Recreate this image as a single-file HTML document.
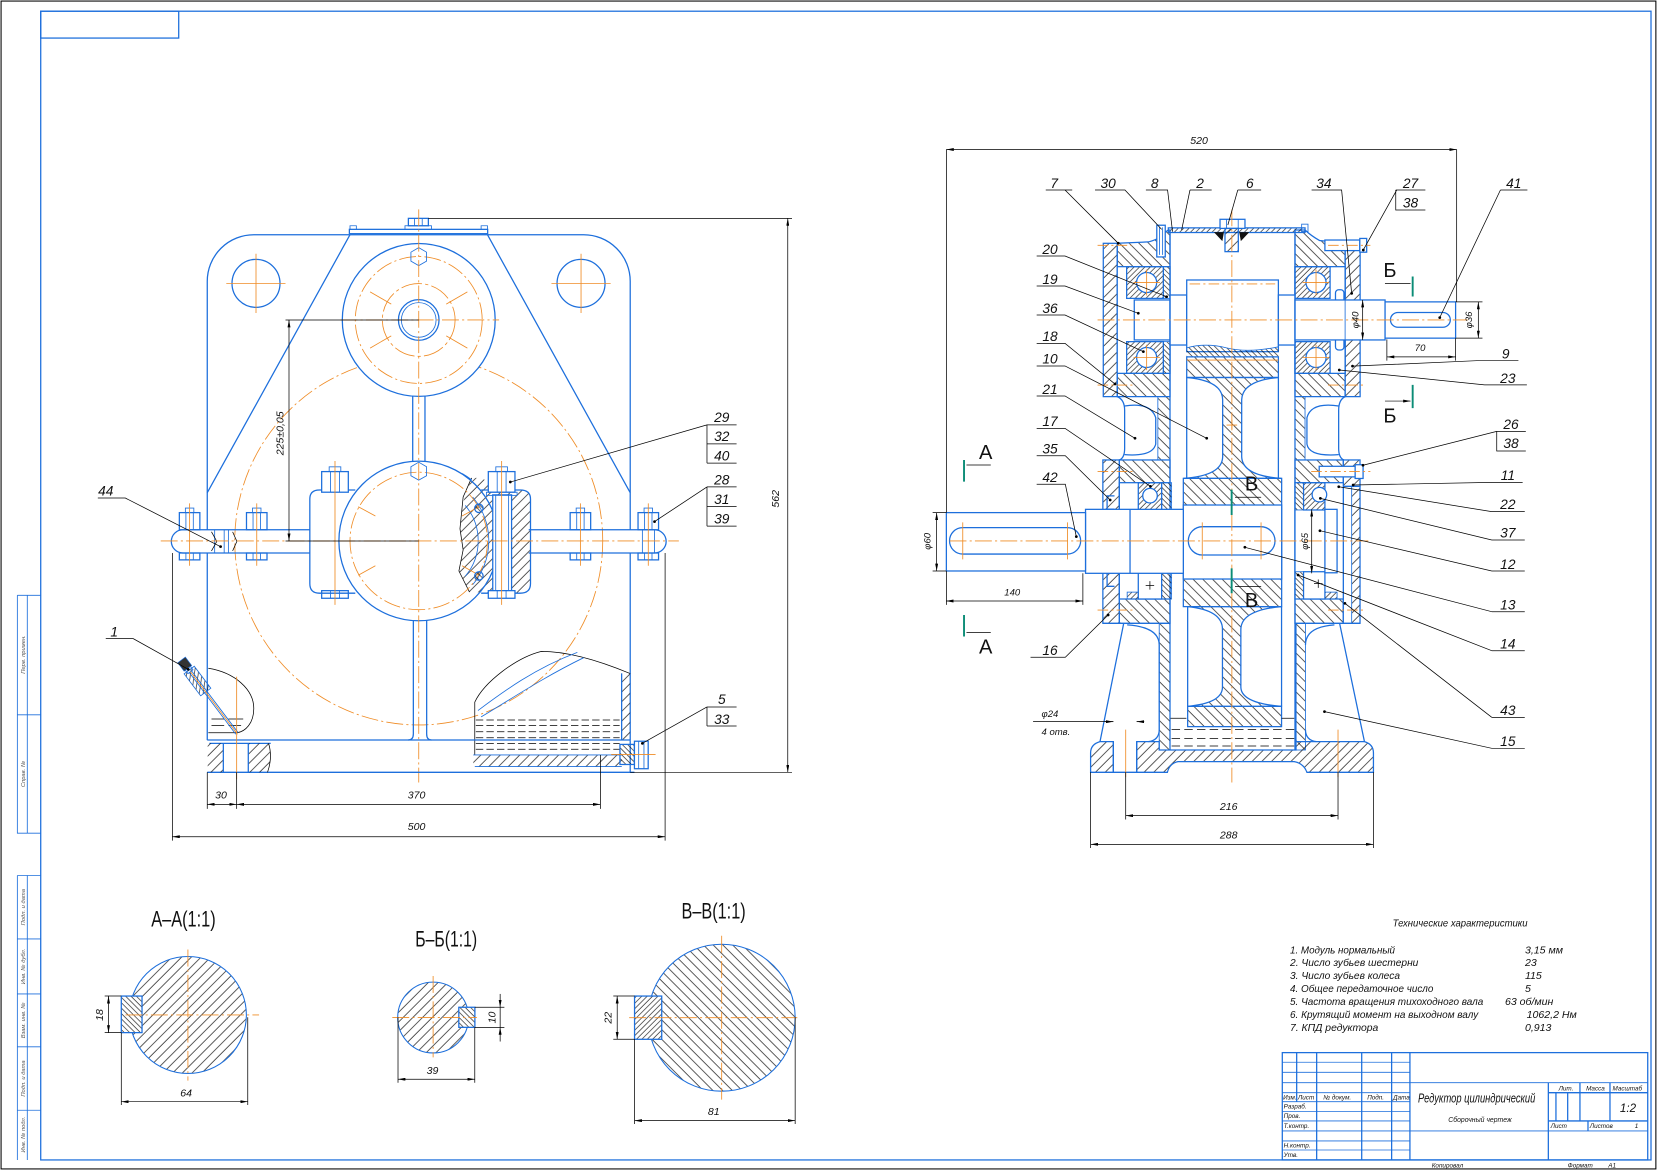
<!DOCTYPE html>
<html><head><meta charset="utf-8"><title>Редуктор цилиндрический</title>
<style>
html,body{margin:0;padding:0;background:#fff;width:1658px;height:1172px;overflow:hidden}
svg{display:block}
text{font-family:"Liberation Sans","DejaVu Sans",sans-serif;font-style:italic;fill:#111;stroke:none}
.u{font-style:normal}
.b{stroke:#1d6fdc;stroke-width:1.2}
.bt{stroke:#1d6fdc;stroke-width:0.8}
.o{stroke:#ef8c26;stroke-width:0.8;stroke-dasharray:16 3 2 3}
.os{stroke:#ef8c26;stroke-width:0.8}
.k{stroke:#000;stroke-width:0.7}
.g{stroke:#0b8c76;stroke-width:1.8}
.gr{fill:#555}
</style></head><body>
<svg width="1658" height="1172" viewBox="0 0 1568 1108.4" xmlns="http://www.w3.org/2000/svg" fill="none">
<defs>
<pattern id="p1" width="6.5" height="6.5" patternUnits="userSpaceOnUse" patternTransform="rotate(45)"><line x1="1" y1="0" x2="1" y2="6.5" stroke="#000" stroke-width="0.6"/></pattern>
<pattern id="p2" width="6.5" height="6.5" patternUnits="userSpaceOnUse" patternTransform="rotate(-45)"><line x1="1" y1="0" x2="1" y2="6.5" stroke="#000" stroke-width="0.6"/></pattern>
<pattern id="p3" width="3.6" height="3.6" patternUnits="userSpaceOnUse" patternTransform="rotate(45)"><line x1="1" y1="0" x2="1" y2="3.6" stroke="#000" stroke-width="0.55"/></pattern>
<pattern id="p4" width="3.6" height="3.6" patternUnits="userSpaceOnUse" patternTransform="rotate(-45)"><line x1="1" y1="0" x2="1" y2="3.6" stroke="#000" stroke-width="0.55"/></pattern>
<pattern id="p5" width="9" height="9" patternUnits="userSpaceOnUse" patternTransform="rotate(45)"><line x1="1" y1="0" x2="1" y2="9" stroke="#000" stroke-width="0.6"/></pattern>
<marker id="ar" viewBox="0 0 10 4" refX="10" refY="2" markerWidth="7" markerHeight="2.8" orient="auto-start-reverse" markerUnits="userSpaceOnUse"><path d="M0,0 L10,2 L0,4z" fill="#000"/></marker>
</defs>
<rect x="0" y="0" width="1568" height="1108.4" fill="#fff"/>

<!-- ============ FRAME ============ -->
<rect x="1" y="1" width="1565" height="1104.5" stroke="#000" stroke-width="1"/>
<rect class="b" x="38.5" y="10.6" width="1522.9" height="1086.4"/>
<rect class="b" x="38.5" y="10.6" width="130.5" height="25.4"/>
<path class="bt" d="M16.4,563H38.5M16.4,563V788H38.5M25.8,563V788M16.4,676H38.5M16.4,828H38.5M16.4,828V1097M25.8,828V1097M16.4,888H38.5M16.4,940H38.5M16.4,990H38.5M16.4,1050H38.5"/>
<g font-size="5.5" class="gr">
<text class="gr" transform="translate(23.5,619) rotate(-90)" text-anchor="middle">Перв. примен.</text>
<text class="gr" transform="translate(23.5,732) rotate(-90)" text-anchor="middle">Справ. №</text>
<text class="gr" transform="translate(23.5,858) rotate(-90)" text-anchor="middle">Подп. и дата</text>
<text class="gr" transform="translate(23.5,914) rotate(-90)" text-anchor="middle">Инв. № дубл.</text>
<text class="gr" transform="translate(23.5,965) rotate(-90)" text-anchor="middle">Взам. инв. №</text>
<text class="gr" transform="translate(23.5,1020) rotate(-90)" text-anchor="middle">Подп. и дата</text>
<text class="gr" transform="translate(23.5,1073) rotate(-90)" text-anchor="middle">Инв. № подл.</text>
</g>

<!-- ============ TITLE BLOCK ============ -->
<rect class="b" x="1212.7" y="995.5" width="345.6" height="101.5"/>
<path class="bt" d="M1212.7,1004.6H1333.4M1212.7,1014.1H1333.4M1212.7,1023.9H1558.3M1212.7,1033.4H1333.4M1212.7,1041.9H1333.4M1212.7,1051.3H1333.4M1212.7,1060.1H1333.4M1212.7,1069.6H1558.3M1212.7,1079H1333.4M1212.7,1087.6H1333.4"/>
<path class="b" d="M1226.3,995.5V1041.9M1245.2,995.5V1097M1287.8,995.5V1097M1316.1,995.5V1097M1333.4,995.5V1097M1464.3,1023.9V1097M1464.3,1033.4H1558.3M1464.3,1060.1H1558.3M1494.2,1023.9V1060.1M1522.6,1023.9V1060.1M1471.5,1033.4V1060.1M1482.6,1033.4V1060.1M1501.8,1060.1V1069.6"/>
<g font-size="6">
<text x="1213.5" y="1039.6">Изм.</text><text x="1227.5" y="1039.6">Лист</text><text x="1251.5" y="1039.6">№ докум.</text><text x="1293" y="1039.6">Подп.</text><text x="1317.5" y="1039.6">Дата</text>
<text x="1214" y="1048.2">Разраб.</text><text x="1214" y="1057.2">Пров.</text><text x="1214" y="1066.6">Т.контр.</text><text x="1214" y="1085">Н.контр.</text><text x="1214" y="1094">Утв.</text>
<text x="1474" y="1031.5">Лит.</text><text x="1500" y="1031.5">Масса</text><text x="1525" y="1031.5">Масштаб</text>
<text x="1466.5" y="1067">Лист</text><text x="1503.5" y="1067">Листов</text><text x="1546" y="1067">1</text>
<text x="1354" y="1104.2">Копировал</text><text x="1482.6" y="1104.2">Формат</text><text x="1521" y="1104.2">А1</text>
<text x="1369.7" y="1061" font-size="6.5">Сборочный чертеж</text>
</g>
<text x="1341" y="1042.5" font-size="12" textLength="111" lengthAdjust="spacingAndGlyphs">Редуктор цилиндрический</text>
<text x="1532" y="1051.5" font-size="11">1:2</text>

<!-- ============ TECH CHARACTERISTICS ============ -->
<text x="1317" y="876.4" font-size="10" textLength="127.7" lengthAdjust="spacingAndGlyphs">Технические характеристики</text>
<g font-size="10">
<text x="1220" y="901.6" textLength="99.3" lengthAdjust="spacingAndGlyphs">1. Модуль нормальный</text>
<text x="1220" y="913.8" textLength="121.4" lengthAdjust="spacingAndGlyphs">2. Число зубьев шестерни</text>
<text x="1220" y="926" textLength="104" lengthAdjust="spacingAndGlyphs">3. Число зубьев колеса</text>
<text x="1220" y="938.2" textLength="135.6" lengthAdjust="spacingAndGlyphs">4. Общее передаточное число</text>
<text x="1220" y="950.4" textLength="182.8" lengthAdjust="spacingAndGlyphs">5. Частота вращения тихоходного вала</text>
<text x="1220" y="962.8" textLength="178" lengthAdjust="spacingAndGlyphs">6. Крутящий момент на выходном валу</text>
<text x="1220" y="975.2" textLength="83.5" lengthAdjust="spacingAndGlyphs">7. КПД редуктора</text>
<text x="1442.2" y="901.6">3,15 мм</text>
<text x="1442.2" y="913.8">23</text>
<text x="1442.2" y="926">115</text>
<text x="1442.2" y="938.2">5</text>
<text x="1423.3" y="950.4">63 об/мин</text>
<text x="1443.8" y="962.8">1062,2 Нм</text>
<text x="1442.2" y="975.2">0,913</text>
</g>

<!-- ============ LEFT (FRONT) VIEW ============ -->
<!-- wheel pitch circle -->
<circle class="o" cx="396" cy="511.6" r="174"/>
<!-- body outline -->
<path class="b" d="M196,501 V266 A44,44 0 0 1 240,222 H552 A44,44 0 0 1 596,266 V501 M196,523 V700 M596,523 V700"/>
<path class="b" d="M331,222 L196,466 M461,222 L596,466"/>
<!-- cover + plug -->
<rect class="b" x="330.4" y="216.9" width="130.8" height="4.1" fill="#fff"/>
<path class="bt" d="M331,216.9 V213.5 H337 V216.9 M455,216.9 V213.5 H461 V216.9"/>
<rect class="bt" x="383" y="213.5" width="25" height="3.4"/>
<rect class="b" x="386.2" y="206.5" width="18.9" height="7"/>
<path class="bt" d="M392,206.5V213.5M399.3,206.5V213.5"/>
<!-- lifting holes -->
<circle class="b" cx="242.1" cy="268" r="22.7"/>
<circle class="b" cx="549.5" cy="268" r="22.7"/>
<path class="os" d="M214,268H270M242.1,240V296M521.5,268H577.5M549.5,240V296"/>
<!-- upper boss -->
<circle class="b" cx="396" cy="302.6" r="72.3" fill="#fff"/>
<circle class="o" cx="396" cy="302.6" r="60"/>
<circle class="os" cx="396" cy="302.6" r="34.4" stroke-dasharray="20 3 3 3"/>
<circle class="b" cx="396" cy="302.6" r="19.2"/>
<circle class="bt" cx="396" cy="302.6" r="16.4"/>
<path class="os" d="M350,276 L370,287.6 M442,276 L422,287.6 M350,329.2 L370,317.6 M442,329.2 L422,317.6"/>
<polygon class="bt" points="396,234.2 403.4,238.5 403.4,247 396,251.2 388.6,247 388.6,238.5"/>
<!-- neck -->
<path class="b" d="M390.3,374.6 V436 M401.9,374.6 V436"/>
<!-- flange band -->
<path class="b" d="M173,501 H293 M173,523 H293 M173,501 A11,11 0 0 0 173,523 M500,501 H619 M500,523 H619 M619,501 A11,11 0 0 1 619,523"/>
<!-- lugs -->
<path class="b" d="M336,463.4 H302 Q293,463.4 293,472 V552 Q293,561 302,561 H336"/>
<!-- section cut region right lug -->
<path d="M446,452 L455,452 L470,460 L492,463.4 Q501.7,463.4 501.7,472 V552 Q501.7,561 492,561 L444,560 L434,540 L438,520 L435,500 L438,475 Z" fill="url(#p1)"/>
<path class="k" d="M446,452 L438,470 L435,500 L438,520 L434,540 L444,560" stroke-width="0.9"/>
<path class="b" d="M455,463.4 H492 Q501.7,463.4 501.7,472 V552 Q501.7,561 492,561 H455"/>
<path class="bt" d="M440,478 A52,52 0 0 1 440,545 M447,470 A64,64 0 0 1 447,553"/>
<!-- lower boss -->
<circle class="b" cx="396" cy="511.6" r="75.5" fill="#fff" fill-opacity="0"/>
<path class="b" d="M437,448 A75.5,75.5 0 0 1 446,454" />
<circle class="o" cx="396" cy="511.6" r="65"/>
<path class="os" d="M338.8,479.2 L355,488 M453.2,479.2 L437,488 M338.8,544 L355,535 M453.2,544 L437,535"/>
<polygon class="bt" points="396,437.1 403.4,441.4 403.4,449.9 396,454.1 388.6,449.9 388.6,441.4"/>
<!-- lower rib -->
<path class="b" d="M390.9,587 V694 Q390.9,699.8 386,699.8 M403.5,587 V694 Q403.5,699.8 408,699.8"/>
<!-- pins in cut -->
<circle class="b" cx="452.9" cy="480.7" r="4" fill="url(#p4)"/>
<circle class="b" cx="452.9" cy="544.7" r="4" fill="url(#p4)"/>
<!-- section bolt (29) -->
<rect class="b" x="466" y="468" width="17.8" height="90.6" fill="#fff"/>
<path class="bt" d="M468.8,468 V558.6 M481,468 V558.6"/>
<rect class="b" x="461.8" y="446" width="25.2" height="19.5" fill="#fff"/>
<path class="bt" d="M470.2,446V465.5M478.6,446V465.5"/>
<rect class="bt" x="468.9" y="441.5" width="11" height="4.5"/>
<rect class="bt" x="460" y="465.5" width="29" height="3"/>
<rect class="b" x="461.8" y="558.6" width="25.2" height="7.2" fill="#fff"/>
<path class="bt" d="M470.2,558.6V565.8M478.6,558.6V565.8"/>
<!-- lug bolt left -->
<rect class="b" x="304.2" y="446" width="25.2" height="19.5" fill="#fff"/>
<path class="bt" d="M312.6,446V465.5M321,446V465.5"/>
<rect class="bt" x="311.3" y="441.5" width="11" height="4.5"/>
<rect class="b" x="304.2" y="558.6" width="25.2" height="7.2"/>
<path class="bt" d="M312.6,558.6V565.8M321,558.6V565.8"/>
<path class="os" d="M316.8,436V572M474.4,436V572"/>
<!-- flange bolts -->
<g>
<rect class="b" x="169.6" y="484.8" width="19.4" height="16.2"/><path class="bt" d="M175.8,484.8V501M182.8,484.8V501"/><rect class="bt" x="175.3" y="480.5" width="8" height="4.3"/><rect class="b" x="169.6" y="523" width="19.4" height="6.5"/><path class="bt" d="M175.8,523V529.5M182.8,523V529.5"/>
<rect class="b" x="233.1" y="484.8" width="19.4" height="16.2"/><path class="bt" d="M239.3,484.8V501M246.3,484.8V501"/><rect class="bt" x="238.8" y="480.5" width="8" height="4.3"/><rect class="b" x="233.1" y="523" width="19.4" height="6.5"/><path class="bt" d="M239.3,523V529.5M246.3,523V529.5"/>
<rect class="b" x="539.2" y="484.8" width="19.4" height="16.2"/><path class="bt" d="M545.4,484.8V501M552.4,484.8V501"/><rect class="bt" x="544.9" y="480.5" width="8" height="4.3"/><rect class="b" x="539.2" y="523" width="19.4" height="6.5"/><path class="bt" d="M545.4,523V529.5M552.4,523V529.5"/>
<rect class="b" x="603.4" y="484.8" width="19.4" height="16.2"/><path class="bt" d="M609.6,484.8V501M616.6,484.8V501"/><rect class="bt" x="609.1" y="480.5" width="8" height="4.3"/><rect class="b" x="603.4" y="523" width="19.4" height="6.5"/><path class="bt" d="M609.6,523V529.5M616.6,523V529.5"/>
<path class="bt" d="M607.5,501V523M619,501V523M203,501V523M212,501V523M216,501V523"/>
<path class="k" d="M200,503 L205,512 L200,521 M220,503 L224,512 L220,521"/>
<path class="os" d="M179.3,476V535M242.8,476V535M548.9,476V535M613.1,476V535"/>
</g>
<!-- center lines -->
<path class="o" d="M396,198 V740 M322,302.6 H472 M152,511.6 H642"/>
<!-- left oil gauge cavity -->
<path class="k" d="M197,632 C222,636 240,652 240,670 C240,684 232,692 224,693 H197" stroke-width="0.8"/>
<path class="k" d="M200,680 H212 M216,680 H230 M200,686 H212 M216,686 H228" stroke-width="0.8"/>
<g transform="translate(176.5,630.5) rotate(53)">
<rect x="4" y="-6" width="26" height="12" fill="url(#p4)" class="bt"/>
<rect x="-8" y="-4.5" width="10" height="9" fill="#333" stroke="#1d6fdc" stroke-width="0.6"/>
<rect x="2" y="-3" width="4" height="6" class="bt"/>
<path class="bt" d="M6,-1.3 H79 M6,1.3 H79"/>
<path class="os" d="M6,0 H80"/>
</g>
<!-- right cutaway with oil -->
<path class="k" d="M449,714 V664 C458,645 488,622 512,616 C540,616 572,627 596,637" stroke-width="0.8"/>
<path class="bt" d="M452,672 C476,654 506,632 546,617 M455,678 C485,660 515,640 552,622"/>
<path class="k" d="M450,680.9H586M450,686.3H586M450,692H586M450,697.7H586M450,703H586M450,708.6H586" stroke-dasharray="7 3" stroke-width="0.9"/>
<rect x="447.6" y="714" width="140.4" height="11" fill="url(#p1)"/>
<path class="bt" d="M447.6,714 H588 M449,725 H588"/>
<rect x="587.9" y="636.8" width="8" height="63" fill="url(#p1)"/>
<path class="b" d="M587.9,636.8 V700"/>
<!-- base -->
<path class="b" d="M196,699.8 H596 M198,703 H256 M196,730.4 H600 M596,700 V730.4"/>
<rect x="196.4" y="703" width="14.8" height="27.4" fill="url(#p1)"/>
<path d="M234.8,703 H254 Q258,716 253,730.4 H234.8 Z" fill="url(#p1)"/>
<path class="b" d="M211.2,703 V730.4 M234.8,703 V730.4"/>
<path class="k" d="M254,703 Q258,716 253,730.4"/>
<path class="os" d="M223.8,640 V737"/>
<!-- drain plug -->
<rect class="b" x="586.3" y="704" width="13.7" height="19" fill="url(#p4)"/>
<rect class="b" x="600" y="701" width="13" height="26" fill="#fff"/>
<path class="bt" d="M604,701V727M609,701V727"/>
<path class="os" d="M578,713.5 H620"/>
<!-- dims left view -->
<path class="k" d="M405,206.5 H749 M596,730.4 H749 M270,302.6 H396 M270,511.6 H396"/>
<path class="k" d="M745,206.5 V730.4" marker-start="url(#ar)" marker-end="url(#ar)"/>
<path class="k" d="M273.3,302.6 V511.6" marker-start="url(#ar)" marker-end="url(#ar)"/>
<text transform="translate(736.5,471.8) rotate(-90)" text-anchor="middle" font-size="10">562</text>
<text transform="translate(268,409.8) rotate(-90)" text-anchor="middle" font-size="10">225±0,05</text>
<path class="k" d="M163,523 V795 M629,523 V795 M196,730.4 V765 M223.8,730.4 V765 M567.8,714 V765"/>
<path class="k" d="M163,791.3 H629" marker-start="url(#ar)" marker-end="url(#ar)"/>
<path class="k" d="M196,760.7 H223.8" marker-start="url(#ar)" marker-end="url(#ar)"/>
<path class="k" d="M223.8,760.7 H567.8" marker-start="url(#ar)" marker-end="url(#ar)"/>
<text x="394" y="785" text-anchor="middle" font-size="10">500</text>
<text x="209" y="755" text-anchor="middle" font-size="10">30</text>
<text x="394" y="755" text-anchor="middle" font-size="10">370</text>
<!-- leaders left view -->
<g font-size="13">
<text x="100" y="468.5" text-anchor="middle">44</text>
<text x="108" y="602" text-anchor="middle">1</text>
<text x="682.6" y="399" text-anchor="middle">29</text>
<text x="682.6" y="417" text-anchor="middle">32</text>
<text x="682.6" y="435.5" text-anchor="middle">40</text>
<text x="682.6" y="458" text-anchor="middle">28</text>
<text x="682.6" y="476.5" text-anchor="middle">31</text>
<text x="682.6" y="495" text-anchor="middle">39</text>
<text x="682.6" y="666" text-anchor="middle">5</text>
<text x="682.6" y="684.5" text-anchor="middle">33</text>
</g>
<path class="k" d="M92.5,471 H118.5 L208.6,517 M100,604 H126 L178,633 M668.6,401.8 H696.6 M668.6,401.8 V438 M668.6,419.8 H696.6 M668.6,438 H696.6 M668.6,401.8 L482.6,455.9 M668.6,460.5 H696.6 M668.6,460.5 V497.6 M668.6,478.9 H696.6 M668.6,497.6 H696.6 M668.6,460.5 L619,493.3 M668.6,668.6 H696.6 M668.6,668.6 V686.6 M668.6,686.6 H696.6 M668.6,668.6 L607.5,703"/>
<g fill="#000"><circle cx="208.6" cy="517" r="1.3"/><circle cx="178" cy="633" r="1.3"/><circle cx="482.6" cy="455.9" r="1.3"/><circle cx="619" cy="493.3" r="1.3"/><circle cx="607.5" cy="703" r="1.3"/></g>

<!-- ============ RIGHT (SECTION) VIEW ============ -->
<!-- upper blocks -->
<path d="M1056.6,230.1 L1086,228.8 Q1097,226 1100,221 L1104.9,217.5 H1106.5 V375.1 H1056.6 Z" fill="url(#p2)" class="b"/>
<rect x="1043.4" y="230.1" width="13.2" height="145" fill="url(#p1)" class="b"/>
<path d="M1224.7,217.5 H1234.2 Q1240,223 1248,227.5 L1272.1,230.1 V375.1 H1224.7 Z" fill="url(#p2)" class="b"/>
<rect x="1272.1" y="230.1" width="14.2" height="145" fill="url(#p1)" class="b"/>
<rect x="1056.6" y="252.2" width="49.9" height="100.9" fill="#fff" class="b"/>
<rect x="1224.7" y="252.2" width="47.4" height="100.9" fill="#fff" class="b"/>
<!-- bearings upper -->
<rect x="1065.5" y="252.2" width="34.7" height="30" fill="url(#p3)" class="b"/>
<rect x="1065.5" y="323.1" width="34.7" height="30" fill="url(#p3)" class="b"/>
<rect x="1100.2" y="252.2" width="6.3" height="30" fill="url(#p4)" class="bt"/>
<rect x="1100.2" y="323.1" width="6.3" height="30" fill="url(#p4)" class="bt"/>
<rect x="1224.7" y="252.2" width="33.2" height="30" fill="url(#p3)" class="b"/>
<rect x="1224.7" y="323.1" width="33.2" height="30" fill="url(#p3)" class="b"/>
<circle cx="1084.4" cy="267.2" r="9.5" fill="#fff" class="b"/>
<circle cx="1084.4" cy="338.1" r="9.5" fill="#fff" class="b"/>
<circle cx="1244.6" cy="267.2" r="9.5" fill="#fff" class="b"/>
<circle cx="1244.6" cy="338.1" r="9.5" fill="#fff" class="b"/>
<path class="os" d="M1072,267.2H1097M1084.4,255V279.5M1072,338.1H1097M1084.4,326V350M1232,267.2H1257M1244.6,255V279.5M1232,338.1H1257M1244.6,326V350"/>
<rect x="1263" y="274" width="8" height="12" rx="3" class="b" fill="#fff"/>
<rect x="1263" y="319" width="8" height="12" rx="3" class="b" fill="#fff"/>
<!-- upper shafts and pinion -->
<rect x="1072.7" y="283.7" width="33.8" height="37.8" fill="#fff" class="b"/>
<rect x="1106.5" y="279" width="15.8" height="47.3" fill="#fff" class="b"/>
<rect x="1122.3" y="264.8" width="86.7" height="67.8" fill="#fff" class="b"/>
<rect x="1209" y="279" width="15.7" height="47.3" fill="#fff" class="b"/>
<rect x="1224.7" y="283.7" width="85.2" height="37.8" fill="#fff" class="b"/>
<rect x="1309.9" y="285.5" width="66.7" height="34.3" fill="#fff" class="b"/>
<rect x="1315" y="295.5" width="56.6" height="14" rx="7" class="b"/>
<path class="bt" d="M1272.1,283.7V321.5"/>
<path class="os" d="M1125,268.5 H1206" stroke-dasharray="10 3 2 3"/>
<path d="M1122.3,329 Q1140,324 1160,329 T1209,328 V337.5 H1122.3 Z" fill="url(#p4)"/>
<path class="bt" d="M1122.3,329 Q1140,324 1160,329 T1209,328"/>
<!-- cover plate, plug, pin -->
<rect x="1104.9" y="215.5" width="129.3" height="4.4" fill="url(#p3)" class="b"/>
<rect x="1094" y="213" width="8" height="30" fill="#fff" class="b"/>
<path class="bt" d="M1096.5,215V241M1099.5,215V241"/>
<rect x="1231" y="212" width="6" height="7" class="bt"/>
<rect x="1153.8" y="207.4" width="23.6" height="8.6" fill="#fff" class="b"/>
<path class="bt" d="M1160,207.4V216M1171,207.4V216"/>
<rect x="1158.5" y="216" width="12.6" height="22" fill="url(#p1)" class="b"/>
<path d="M1148,219.5 H1157.5 L1156,228 Z M1172,219.5 H1181.5 L1173.5,228 Z" fill="#111"/>
<!-- mid walls -->
<rect x="1095" y="375.1" width="11.5" height="60" fill="url(#p2)" class="bt"/>
<rect x="1224.7" y="375.1" width="9.5" height="60" fill="url(#p2)" class="bt"/>
<path class="b" d="M1056.6,375.1 Q1063.6,378 1063.6,388 V424 Q1063.6,433 1058.6,435 M1063.6,384 Q1088,380 1093,395 V420 Q1090,432 1063.6,430 M1106.5,217.5 V709.3"/>
<path class="b" d="M1272.1,375.1 Q1266,378 1266,388 V424 Q1266,433 1271,435 M1266,384 Q1240,380 1236,395 V420 Q1238,432 1266,430 M1224.7,217.5 V709.3"/>
<!-- wheel upper section -->
<rect x="1122.3" y="337.5" width="86.7" height="19.5" fill="url(#p2)" class="b"/>
<path d="M1122.3,357 H1209 Q1175,360 1174.3,378 V432 Q1175,450 1212,452.4 H1119.1 Q1156,450 1156.3,432 V378 Q1156,360 1122.3,357 Z" fill="url(#p2)" class="b"/>
<path class="b" d="M1122.3,357 V452.4 M1209,357 V452.4"/>
<path class="os" d="M1122.3,340.5 H1209"/>
<!-- lower blocks -->
<rect x="1058.6" y="435" width="47.9" height="154.5" fill="url(#p2)" class="b"/>
<rect x="1043" y="435" width="15.6" height="154.5" fill="url(#p1)" class="b"/>
<rect x="1224.7" y="435" width="45.7" height="154.5" fill="url(#p2)" class="b"/>
<rect x="1270.4" y="435" width="15.8" height="25" fill="url(#p1)" class="b"/>
<rect x="1270.4" y="460" width="15.8" height="129.5" fill="#fff" class="b"/>
<rect x="1278.3" y="460" width="7.9" height="129.5" fill="url(#p1)" class="bt"/>
<rect x="1058.6" y="456.5" width="47.9" height="110" fill="#fff" class="b"/>
<rect x="1224.7" y="456.5" width="45.7" height="110" fill="#fff" class="b"/>
<rect x="1076.5" y="456.5" width="22.1" height="25.8" fill="url(#p3)" class="b"/>
<rect x="1076.5" y="540.7" width="22.1" height="25.8" fill="#fff" class="b"/>
<rect x="1066" y="560" width="10.5" height="6.5" fill="url(#p3)" class="bt"/>
<rect x="1098.6" y="456.5" width="9.4" height="25.8" fill="url(#p4)" class="bt"/>
<rect x="1098.6" y="540.7" width="9.4" height="25.8" fill="url(#p4)" class="bt"/>
<rect x="1232.8" y="456.5" width="20.2" height="25.8" fill="url(#p3)" class="b"/>
<rect x="1232.8" y="540.7" width="20.2" height="25.8" fill="#fff" class="b"/>
<rect x="1224.9" y="456.5" width="7.9" height="25.8" fill="url(#p4)" class="bt"/>
<rect x="1224.9" y="540.7" width="7.9" height="25.8" fill="url(#p4)" class="bt"/>
<rect x="1253" y="560" width="11.5" height="6.5" fill="url(#p3)" class="bt"/>
<circle cx="1087.6" cy="468.8" r="6.9" fill="#fff" class="b"/>
<circle cx="1247.8" cy="467.8" r="6.9" fill="#fff" class="b"/>
<path class="k" d="M1083.5,553.6H1091.5M1087.5,549.6V557.6M1242.7,552H1250.7M1246.7,548V556"/>
<path class="b" d="M1054,469 H1047 V481.5 H1054 M1054,542 H1047 V554.5 H1054"/>
<rect x="1253" y="481.7" width="11.5" height="60" fill="#fff" class="b"/>
<!-- bolts 26, 27 -->
<rect x="1247.6" y="441" width="34" height="10" fill="#fff" class="b"/>
<rect x="1281.6" y="439.5" width="7.5" height="13" fill="#fff" class="b"/>
<rect x="1253" y="227" width="33" height="10" fill="#fff" class="b"/>
<rect x="1286" y="225.5" width="6.5" height="13" fill="#fff" class="b"/>
<!-- hub + low shaft -->
<rect x="1119.1" y="452.4" width="93" height="121.3" fill="url(#p2)" class="b"/>
<rect x="1119.1" y="477.6" width="93" height="70" fill="#fff" class="b"/>
<rect x="1123.8" y="498.1" width="82" height="26.8" rx="13.4" class="b"/>
<rect x="1026.6" y="481.7" width="92.5" height="60.5" fill="#fff" class="b"/>
<path class="b" d="M1068.7,481.7 V542.2"/>
<rect x="895" y="484.8" width="131.6" height="55.2" fill="#fff" class="b"/>
<rect x="898" y="499" width="124" height="25" rx="12.5" class="b"/>
<path class="os" d="M910.5,494V529M1009.5,494V529M1137,494V529M1192.6,494V529"/>
<!-- wheel lower section -->
<path d="M1123.2,573.7 H1212 Q1174,577 1173.5,595 V650 Q1174,665 1212,668 H1123.2 Q1156,665 1156.1,650 V595 Q1156,577 1123.2,573.7 Z" fill="url(#p2)" class="b"/>
<rect x="1123.2" y="668" width="88.8" height="19.2" fill="url(#p2)" class="b"/>
<path class="b" d="M1123.2,573.7 V668 M1212,573.7 V668"/>
<!-- lower housing -->
<path class="b" d="M1043,589.5 H1106.5 M1224.7,589.5 H1286.2 M1062.7,589.5 L1040.3,701.4 M1266.9,589.5 L1290.4,701.4"/>
<rect x="1096.3" y="589.5" width="10.2" height="119.8" fill="url(#p2)" class="bt"/>
<rect x="1224.7" y="589.5" width="9.9" height="119.8" fill="url(#p2)" class="bt"/>
<path class="b" d="M1066,591 Q1096.3,593 1096.3,610 V690 Q1096.3,700 1086,701.4 M1234.6,610 Q1234.6,593 1262,591 M1234.6,690 Q1234.6,700 1245,701.4 M1225.6,589.5 V709.3"/>
<!-- base -->
<path d="M1075,701.4 H1096.3 V709.3 H1225.6 V701.4 H1290.4 Q1298.9,704 1298.9,712 V730.4 H1236 Q1233,722 1224,720.3 H1114 Q1106,722 1104,730.4 H1075 Z" fill="url(#p1)" class="b"/>
<path d="M1031.4,730.4 V712 Q1031.4,704 1040.3,701.4 H1052.9 V730.4 Z" fill="url(#p1)" class="b"/>
<path class="b" d="M1052.9,701.4 V730.4 M1075,701.4 V730.4 M1052.9,730.4 H1075"/>
<path class="os" d="M1064.6,690 V735 M1265.4,690 V735"/>
<!-- oil bath -->
<path class="k" d="M1107,679.3 H1122 M1212,679.3 H1224" stroke-width="1.6"/>
<path class="k" d="M1108,690 H1224 M1108,698.5 H1224 M1108,705.5 H1224" stroke-dasharray="8 4" stroke-width="0.9"/>
<!-- center lines right view -->
<path class="o" d="M1165,198 V740 M1038,302.6 H1388 M898,511.6 H1294"/>
<path class="os" d="M1038,232 H1070 M1038,364.2 H1072 M1038,446 H1072 M1038,577 H1072 M1256,232 H1296 M1256,364.2 H1292 M1240,446 H1296 M1256,577 H1292" stroke-dasharray="10 3 2 3"/>
<path class="os" d="M1160,402 H1170 M1165,397 V407"/>
<!-- dims right view -->
<path class="k" d="M895,141.4 V484.8 M1377.6,141.4 V285.5"/>
<path class="k" d="M895,141.4 H1377.6" marker-start="url(#ar)" marker-end="url(#ar)"/>
<text x="1134" y="136" text-anchor="middle" font-size="10">520</text>
<path class="k" d="M1376.6,285.5 H1402 M1376.6,319.8 H1402"/>
<path class="k" d="M1398.1,285.5 V319.8" marker-start="url(#ar)" marker-end="url(#ar)"/>
<text transform="translate(1392,302.6) rotate(-90)" text-anchor="middle" font-size="9">φ36</text>
<path class="k" d="M1311.6,321 V341 M1376.6,320 V341"/>
<path class="k" d="M1311.6,337.5 H1376.6" marker-start="url(#ar)" marker-end="url(#ar)"/>
<text x="1343" y="332" text-anchor="middle" font-size="9">70</text>
<path class="k" d="M1288.7,283.7 V321.5" marker-start="url(#ar)" marker-end="url(#ar)"/>
<text transform="translate(1285,302.6) rotate(-90)" text-anchor="middle" font-size="9">φ40</text>
<path class="k" d="M1240.5,481.7 V542.2" marker-start="url(#ar)" marker-end="url(#ar)"/>
<text transform="translate(1237,512) rotate(-90)" text-anchor="middle" font-size="9">φ65</text>
<path class="k" d="M882,484.8 H895 M882,540 H895"/>
<path class="k" d="M885.8,484.8 V540" marker-start="url(#ar)" marker-end="url(#ar)"/>
<text transform="translate(880,512) rotate(-90)" text-anchor="middle" font-size="9">φ60</text>
<path class="k" d="M895,540 V572 M1024.1,542.2 V572"/>
<path class="k" d="M894.7,568.4 H1024.1" marker-start="url(#ar)" marker-end="url(#ar)"/>
<text x="957.3" y="563" text-anchor="middle" font-size="9">140</text>
<path class="k" d="M1064.6,730.4 V775 M1265.4,730.4 V775 M1031.4,730.4 V802 M1298.9,730.4 V802"/>
<path class="k" d="M1064.6,771.4 H1265.4" marker-start="url(#ar)" marker-end="url(#ar)"/>
<path class="k" d="M1031.4,798.5 H1298.9" marker-start="url(#ar)" marker-end="url(#ar)"/>
<text x="1162" y="766" text-anchor="middle" font-size="10">216</text>
<text x="1162" y="793" text-anchor="middle" font-size="10">288</text>
<path class="k" d="M977,682.5 H1052.9 M1075,682.5 H1082"/>
<path class="k" d="M1045,682.5 H1052.9" marker-end="url(#ar)"/>
<path class="k" d="M1082,682.5 H1075" marker-end="url(#ar)"/>
<text x="985" y="678" font-size="9">φ24</text>
<text x="985" y="695" font-size="9">4 отв.</text>
<!-- section markers -->
<path class="g" d="M911.7,435 V455.5 M911.7,581.6 V602 M1164.8,463 V487 M1164.8,537.5 V561 M1336,261.5 V280.4 M1336,364 V386"/>
<path class="k" d="M937,439.8 H914 M937,598.3 H914 M1192.7,470.3 H1168 M1192.7,554.8 H1168 M1309.8,268 H1334 M1309.8,379.3 H1334" marker-end="url(#ar)" stroke-width="0.9"/>
<g class="u" font-size="19">
<text class="u" x="932.2" y="434" text-anchor="middle">А</text>
<text class="u" x="932.2" y="618" text-anchor="middle">А</text>
<text class="u" x="1183.7" y="464" text-anchor="middle">В</text>
<text class="u" x="1183.7" y="574" text-anchor="middle">В</text>
<text class="u" x="1314.5" y="262" text-anchor="middle">Б</text>
<text class="u" x="1314.5" y="399.5" text-anchor="middle">Б</text>
</g>
<!-- labels right view -->
<g font-size="13" text-anchor="middle">
<text x="997" y="177.7">7</text><text x="1048" y="177.7">30</text><text x="1092" y="177.7">8</text><text x="1135" y="177.7">2</text><text x="1182" y="177.7">6</text><text x="1252" y="177.7">34</text><text x="1334" y="177.7">27</text><text x="1334" y="196.2">38</text><text x="1431.6" y="177.7">41</text>
<text x="993" y="240">20</text><text x="993" y="268.5">19</text><text x="993" y="296">36</text><text x="993" y="322.7">18</text><text x="993" y="344">10</text><text x="993" y="372.5">21</text><text x="993" y="403">17</text><text x="993" y="429">35</text><text x="993" y="456">42</text><text x="993" y="619.6">16</text>
<text x="1424" y="339">9</text><text x="1426" y="362">23</text><text x="1429" y="405.8">26</text><text x="1429" y="423.8">38</text><text x="1426" y="454">11</text><text x="1426" y="481.6">22</text><text x="1426" y="508.5">37</text><text x="1426" y="538">12</text><text x="1426" y="576.3">13</text><text x="1426" y="613.3">14</text><text x="1426" y="676.2">43</text><text x="1426" y="705.5">15</text>
</g>
<path class="k" d="M989,179.7 H1014 M1007.2,179.7 L1057.6,230.1 M1035.6,179.7 H1063.9 L1098.6,216.9 M1083.7,179.7 H1104.2 L1108.9,219.1 M1125.4,179.7 H1145.9 M1125.4,179.7 L1117.5,217.5 M1170.6,179.7 H1192.7 M1170.6,179.7 L1161.2,212.8 M1240.4,179.7 H1268.8 L1278.3,277.4 M1320,179.7 H1348 M1320,179.7 V198.6 H1348 M1320.9,179.7 L1289.3,236.4 M1419,179.7 H1444.5 M1419,179.7 L1361.6,300.4"/>
<path class="k" d="M980.4,242.1 H1007.2 L1103.3,280.6 M980.4,270.5 H1007.2 L1076.5,296.3 M980.4,297.9 H1007.2 L1081.3,332.6 M980.4,324.7 H1007.2 L1054.5,363.2 M980.4,346.1 H1007.2 L1141.2,414.5 M980.4,374.5 H1007.2 L1073.4,414.5 M980.4,405.1 H1007.2 L1088,460 M980.4,431 H1007.5 L1049.9,472.9 M980.4,458 H1007.5 L1017.9,507.5 M974.6,621.6 H1007.5 L1048,581.6"/>
<path class="k" d="M1399,341 H1436 M1399,341 L1279.1,346.3 M1404,364 H1444 M1404,364 L1266.6,349.9 M1415.5,408 H1443 M1415.5,408 V426.5 H1443 M1415.5,408 L1289,440 M1410.8,456.2 H1440 M1410.8,456.2 L1279.7,458.7 M1410.8,483.9 H1442 M1410.8,483.9 L1266.1,460.3 M1410.8,510.7 H1442 M1410.8,510.7 L1248.7,471.3 M1410.8,540 H1442 M1410.8,540 L1248.3,501.9 M1410.8,578.5 H1442 M1410.8,578.5 L1177.3,517.6 M1410.8,615.4 H1442 M1410.8,615.4 L1227.6,543.8 M1410.8,678.4 H1442 M1410.8,678.4 L1271.9,570.6 M1410.8,707.7 H1442 M1410.8,707.7 L1252.6,673"/>
<g fill="#000">
<circle cx="1057.6" cy="230.1" r="1.3"/><circle cx="1278.3" cy="277.4" r="1.3"/><circle cx="1289.3" cy="236.4" r="1.3"/><circle cx="1361.6" cy="300.4" r="1.3"/>
<circle cx="1103.3" cy="280.6" r="1.3"/><circle cx="1076.5" cy="296.3" r="1.3"/><circle cx="1081.3" cy="332.6" r="1.3"/><circle cx="1054.5" cy="363.2" r="1.3"/><circle cx="1141.2" cy="414.5" r="1.3"/><circle cx="1073.4" cy="414.5" r="1.3"/><circle cx="1088" cy="460" r="1.3"/><circle cx="1049.9" cy="472.9" r="1.3"/><circle cx="1017.9" cy="507.5" r="1.3"/><circle cx="1048" cy="581.6" r="1.3"/>
<circle cx="1279.1" cy="346.3" r="1.3"/><circle cx="1266.6" cy="349.9" r="1.3"/><circle cx="1289" cy="440" r="1.3"/><circle cx="1279.7" cy="458.7" r="1.3"/><circle cx="1266.1" cy="460.3" r="1.3"/><circle cx="1248.7" cy="471.3" r="1.3"/><circle cx="1248.3" cy="501.9" r="1.3"/><circle cx="1177.3" cy="517.6" r="1.3"/><circle cx="1227.6" cy="543.8" r="1.3"/><circle cx="1271.9" cy="570.6" r="1.3"/><circle cx="1252.6" cy="673" r="1.3"/>
</g>

<!-- ============ SECTIONS ============ -->
<!-- A-A -->
<text class="u" x="143" y="876.4" font-size="21" textLength="61" lengthAdjust="spacingAndGlyphs">А–А(1:1)</text>
<circle cx="177.7" cy="959.9" r="55.3" fill="url(#p1)" stroke="#1d6fdc" stroke-width="1"/>
<rect x="114.7" y="942" width="19.6" height="34.6" fill="#fff"/>
<rect x="114.7" y="942" width="19.6" height="34.6" fill="url(#p4)" class="b"/>
<path class="o" d="M177.7,898 V1022 M118.7,959.9 H245"/>
<path class="k" d="M99,942 H114.7 M99,976.6 H114.7 M114.7,976.6 V1045 M234.3,962 V1045"/>
<path class="k" d="M102.6,942 V976.6" marker-start="url(#ar)" marker-end="url(#ar)"/>
<path class="k" d="M114.7,1041.9 H234.3" marker-start="url(#ar)" marker-end="url(#ar)"/>
<text transform="translate(97.5,959.9) rotate(-90)" text-anchor="middle" font-size="10">18</text>
<text x="176" y="1037" text-anchor="middle" font-size="10">64</text>
<!-- Б-Б -->
<text class="u" x="392.7" y="895.3" font-size="21" textLength="58.6" lengthAdjust="spacingAndGlyphs">Б–Б(1:1)</text>
<circle cx="409.6" cy="962.3" r="33.5" fill="url(#p1)" stroke="#1d6fdc" stroke-width="1"/>
<rect x="433.9" y="952.6" width="15.2" height="19" fill="#fff"/>
<rect x="433.9" y="952.6" width="15.2" height="19" fill="url(#p4)" class="b"/>
<path class="o" d="M409.6,923 V1000 M371,962.3 H451"/>
<path class="k" d="M449,952.6 H477 M449,971.6 H477 M376.4,962 V1024 M449,971.6 V1024 M473,952.6 V971.6"/>
<path class="k" d="M473,940 V952.6" marker-end="url(#ar)"/>
<path class="k" d="M473,985 V971.6" marker-end="url(#ar)"/>
<path class="k" d="M376.4,1020.7 H449" marker-start="url(#ar)" marker-end="url(#ar)"/>
<text transform="translate(468.5,962.3) rotate(-90)" text-anchor="middle" font-size="10">10</text>
<text x="409" y="1015.5" text-anchor="middle" font-size="10">39</text>
<!-- В-В -->
<text class="u" x="644.5" y="868.5" font-size="21" textLength="60.7" lengthAdjust="spacingAndGlyphs">В–В(1:1)</text>
<circle cx="682.5" cy="962.5" r="69.5" fill="url(#p2)" stroke="#1d6fdc" stroke-width="1"/>
<rect x="600.1" y="942" width="25.7" height="40.9" fill="#fff"/>
<rect x="600.1" y="942" width="25.7" height="40.9" fill="url(#p3)" class="b"/>
<path class="o" d="M682.5,885 V1040 M595,962.5 H754"/>
<path class="k" d="M580,942 H600.1 M580,982.9 H600.1 M600.1,982.9 V1063 M752,962 V1063"/>
<path class="k" d="M583.7,942 V982.9" marker-start="url(#ar)" marker-end="url(#ar)"/>
<path class="k" d="M600.1,1059.8 H752" marker-start="url(#ar)" marker-end="url(#ar)"/>
<text transform="translate(578.5,962.5) rotate(-90)" text-anchor="middle" font-size="10">22</text>
<text x="675" y="1054.5" text-anchor="middle" font-size="10">81</text>
</svg>
</body></html>
